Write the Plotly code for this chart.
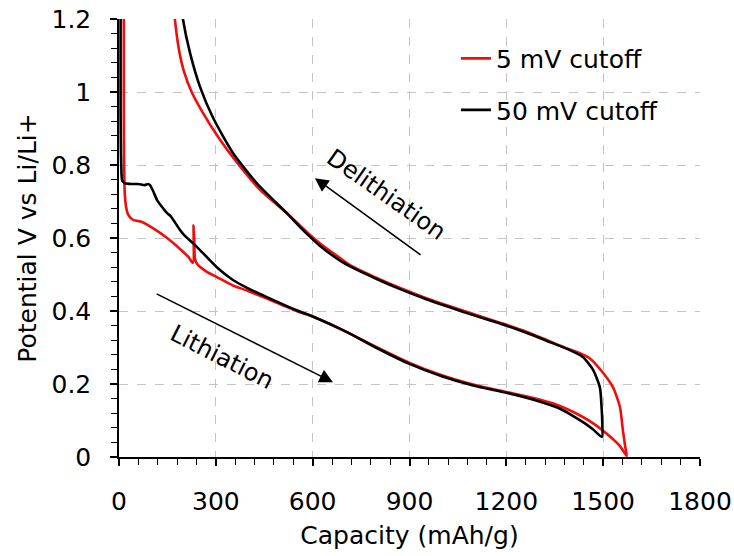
import plotly.graph_objects as go

# ---- data (capacity mAh/g, potential V) ----
red_x = [15, 15, 16, 18, 22, 28, 43, 71, 105, 149, 189, 215, 229, 231, 233, 235, 241, 272, 303, 353, 400, 458,
         550, 600, 700, 800, 900, 1000, 1100, 1200, 1300, 1360, 1406, 1468, 1512, 1552, 1573,
         1568, 1561, 1552, 1531, 1500, 1459, 1419, 1380, 1326, 1260, 1180, 1100, 1025, 950, 871, 800, 716,
         685, 623, 592, 561, 520, 437, 366, 313, 260, 225, 200, 185, 173, 168]
red_y = [1.25, 0.95, 0.80, 0.72, 0.685, 0.665, 0.65, 0.644, 0.627, 0.600, 0.570, 0.548, 0.532, 0.635, 0.600, 0.545,
         0.530, 0.507, 0.493, 0.470, 0.455, 0.434, 0.400, 0.385, 0.345, 0.300, 0.258, 0.224, 0.198, 0.178, 0.158,
         0.142, 0.124, 0.093, 0.063, 0.030, 0.003,
         0.030, 0.074, 0.137, 0.190, 0.230, 0.270, 0.288, 0.300, 0.320, 0.344, 0.368, 0.391, 0.413, 0.436,
         0.463, 0.490, 0.526, 0.545, 0.585, 0.608, 0.634, 0.668, 0.732, 0.806, 0.869, 0.943, 1.000, 1.060,
         1.120, 1.20, 1.25]

blk_x = [5, 5, 7, 10, 19, 40, 60, 80, 90, 96, 105, 118, 136, 149, 160, 189, 205, 229, 251, 303, 353, 400, 458,
         550, 600, 700, 800, 900, 1000, 1100, 1200, 1300, 1360, 1406, 1440, 1468, 1496,
         1497, 1495, 1490, 1468, 1437, 1397, 1326, 1260, 1180, 1100, 1025, 950, 871, 800, 716, 685, 623,
         592, 561, 520, 427, 353, 291, 251, 220, 198, 190]
blk_y = [1.25, 0.95, 0.80, 0.757, 0.750, 0.748, 0.748, 0.745, 0.748, 0.745, 0.730, 0.704, 0.682, 0.668, 0.660,
         0.622, 0.605, 0.586, 0.567, 0.520, 0.485, 0.462, 0.438, 0.402, 0.385, 0.345, 0.298, 0.255, 0.221,
         0.195, 0.176, 0.153, 0.135, 0.113, 0.094, 0.076, 0.055,
         0.100, 0.137, 0.190, 0.240, 0.274, 0.293, 0.318, 0.341, 0.366, 0.388, 0.410, 0.433, 0.460, 0.487,
         0.522, 0.538, 0.578, 0.603, 0.630, 0.668, 0.750, 0.833, 0.930, 1.014, 1.107, 1.20, 1.26]

series_names = ["5 mV cutoff", "50 mV cutoff"]
x_ticks = [0, 300, 600, 900, 1200, 1500, 1800]
y_ticks = [0, 0.2, 0.4, 0.6, 0.8, 1.0, 1.2]

FONT = "DejaVu Sans"
RED = "#f20c0c"
GRID = "#c4c4c4"

fig = go.Figure()
fig.add_trace(go.Scatter(x=red_x, y=red_y, mode="lines", name=series_names[0],
                         line=dict(color=RED, width=2.6, shape="spline", smoothing=0.6), legendgroup="a"))
fig.add_trace(go.Scatter(x=blk_x, y=blk_y, mode="lines", name=series_names[1],
                         line=dict(color="black", width=2.6, shape="spline", smoothing=0.6), legendgroup="b"))

# arrows
fig.add_annotation(x=607, y=0.764, ax=939, ay=0.551, xref="x", yref="y", axref="x", ayref="y",
                   text="", showarrow=True, arrowhead=2, arrowsize=1.7, arrowwidth=1.6,
                   arrowcolor="black", standoff=0)
fig.add_annotation(x=663, y=0.205, ax=112, ay=0.449, xref="x", yref="y", axref="x", ayref="y",
                   text="", showarrow=True, arrowhead=2, arrowsize=1.7, arrowwidth=1.6,
                   arrowcolor="black", standoff=0)
# texts
fig.add_annotation(x=830, y=0.718, xref="x", yref="y", text="Delithiation", showarrow=False,
                   textangle=35, font=dict(family=FONT, size=24, color="black"))
fig.add_annotation(x=318, y=0.274, xref="x", yref="y", text="Lithiation", showarrow=False,
                   textangle=27, font=dict(family=FONT, size=24, color="black"))

fig.update_layout(
    width=734, height=556,
    margin=dict(l=119, r=34, t=19, b=99),
    paper_bgcolor="white", plot_bgcolor="white",
    font=dict(family=FONT, size=25, color="black"),
    showlegend=True,
    legend=dict(x=0.58, y=0.962, xanchor="left", yanchor="top", bgcolor="rgba(0,0,0,0)",
                font=dict(family=FONT, size=25, color="black"), tracegroupgap=16),
    xaxis=dict(range=[0, 1800], tickvals=x_ticks, ticktext=[str(v) for v in x_ticks],
               showline=True, linecolor="black", linewidth=1.5,
               ticks="outside", ticklen=7, tickwidth=1.5, tickcolor="black",
               minor=dict(dtick=60, ticks="outside", ticklen=6, tickwidth=1.2, tickcolor="black", showgrid=False),
               showgrid=True, gridcolor=GRID, gridwidth=1.4, griddash="dash",
               zeroline=False, ticklabelstandoff=14,
               title=dict(text="Capacity (mAh/g)", font=dict(size=25), standoff=12),
               automargin=False),
    yaxis=dict(range=[0, 1.2], tickvals=y_ticks, ticktext=["0", "0.2", "0.4", "0.6", "0.8", "1", "1.2"],
               showline=True, linecolor="black", linewidth=1.5,
               ticks="outside", ticklen=7, tickwidth=1.5, tickcolor="black",
               minor=dict(dtick=0.04, ticks="outside", ticklen=6, tickwidth=1.2, tickcolor="black", showgrid=False),
               showgrid=True, gridcolor=GRID, gridwidth=1.4, griddash="dash",
               zeroline=False, ticklabelstandoff=14,
               title=dict(text="Potential V vs Li/Li+", font=dict(size=25), standoff=8),
               automargin=False),
)

fig.write_html("out.html")
